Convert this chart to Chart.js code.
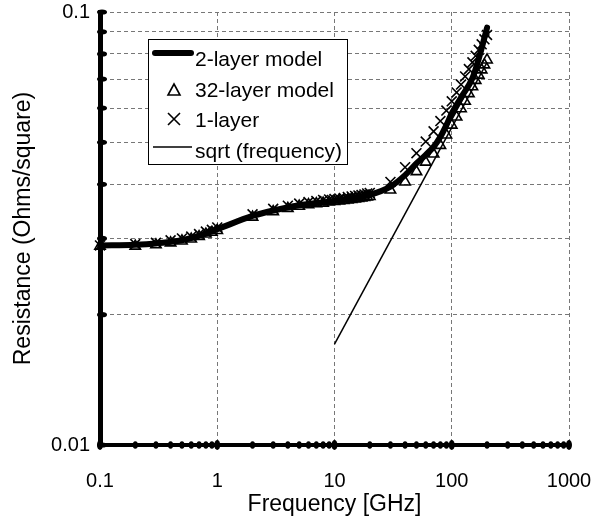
<!DOCTYPE html>
<html>
<head>
<meta charset="utf-8">
<script src="https://cdn.jsdelivr.net/npm/chart.js@4.4.1/dist/chart.umd.min.js"></script>
<style>
  html, body { margin: 0; padding: 0; background: #fff; }
  #wrap { width: 600px; height: 517px; }
</style>
</head>
<body>
<div id="wrap"><canvas id="resistance" width="600" height="517"></canvas></div>
<script>
// frequencies [GHz] of the 2-layer model curve and its resistance [Ohms/square]
const modelFreq = [0.1, 0.2, 0.3, 0.5, 0.7, 1, 2, 3, 5, 7, 10, 15, 20, 30, 40, 50, 60, 70, 80, 90, 100, 120, 150, 170, 200];
const modelRes  = [0.0289, 0.0290, 0.0292, 0.0297, 0.0304, 0.0315, 0.0338, 0.0348, 0.0358, 0.0362, 0.0366, 0.0372, 0.0378,
                   0.0395, 0.0420, 0.0447, 0.0468, 0.0488, 0.0515, 0.0548, 0.0583, 0.0635, 0.0703, 0.0780, 0.0920];

// frequencies where the 32-layer and 1-layer models were evaluated
const markerFreq = [0.1, 0.2, 0.3, 0.4, 0.5, 0.6, 0.7, 0.8, 0.9, 1, 2, 3, 4, 5, 6, 7, 8, 9, 10,
                    11, 12, 13, 14, 15, 16, 17, 18, 19, 20, 30, 40, 50, 60, 70, 80, 90, 100,
                    110, 120, 130, 140, 150, 160, 170, 180, 190, 200];
const res32Layer = [0.0288, 0.0288, 0.0290, 0.0293, 0.0296, 0.0299, 0.0303, 0.0307, 0.0310, 0.0313,
                    0.0336, 0.0346, 0.0352, 0.0356, 0.0359, 0.0361, 0.0362, 0.0364, 0.0365,
                    0.0366, 0.0367, 0.0368, 0.0369, 0.0370, 0.0371, 0.0372, 0.0373, 0.0374, 0.0375,
                    0.0388, 0.0405, 0.0428, 0.0450, 0.0470, 0.0492, 0.0520, 0.0548,
                    0.0572, 0.0598, 0.0622, 0.0648, 0.0672, 0.0695, 0.0715, 0.0735, 0.0755, 0.0775];
const res1Layer  = [0.0289, 0.0291, 0.0293, 0.0297, 0.0300, 0.0303, 0.0307, 0.0311, 0.0314, 0.0318,
                    0.0341, 0.0351, 0.0357, 0.0361, 0.0364, 0.0366, 0.0368, 0.0369, 0.0370,
                    0.0371, 0.0372, 0.0374, 0.0375, 0.0376, 0.0377, 0.0378, 0.0379, 0.0381, 0.0382,
                    0.0405, 0.0438, 0.0472, 0.0502, 0.0530, 0.0560, 0.0592, 0.0622,
                    0.0652, 0.0680, 0.0710, 0.0738, 0.0765, 0.0792, 0.0818, 0.0842, 0.0865, 0.0885];

// sqrt(frequency) reference line, end points
const sqrtFreq = [10, 200];
const sqrtRes  = [0.0171, 0.0765];

const seriesLabels = ['2-layer model', '32-layer model', '1-layer', 'sqrt (frequency)'];

// axis ticks: every 1..9 x decade, labels only on decades
const xDecades = [0.1, 1, 10, 100];
const yDecades = [0.01];
const xTickLabels = ['0.1', '1', '10', '100', '1000'];
const yTickLabels = ['0.01', '0.1'];

function minorTicks(decades, last) {
    const out = [];
    decades.forEach(d => {
        for (let s = 1; s <= 9; s++) out.push(Number((d * s).toPrecision(3)));
    });
    out.push(last);
    return out;
}
const xTickVals = minorTicks(xDecades, 1000);
const yTickVals = minorTicks(yDecades, 0.1);

const FONT = '"Liberation Sans", Arial, sans-serif';

function toPoints(xs, ys) {
    return xs.map((x, i) => ({ x: x, y: ys[i] }));
}

// dots on the axes at every tick
const axisDots = {
    id: 'axisDots',
    afterDraw(chart) {
        const ctx = chart.ctx;
        const xs = chart.scales.x, ys = chart.scales.y;
        const area = chart.chartArea;
        ctx.save();
        ctx.fillStyle = '#000';
        xs.ticks.forEach(t => {
            const px = xs.getPixelForValue(t.value);
            const big = xTickLabels.includes(String(t.value));
            ctx.beginPath();
            ctx.ellipse(px, area.bottom, big ? 3 : 2.6, big ? 5 : 3.8, 0, 0, Math.PI * 2);
            ctx.fill();
        });
        ys.ticks.forEach(t => {
            const py = ys.getPixelForValue(t.value);
            ctx.beginPath();
            ctx.ellipse(area.left + 2, py, 5, 2.6, 0, 0, Math.PI * 2);
            ctx.fill();
        });
        ctx.restore();
    }
};

// boxed legend in the upper left of the plot
const legendBox = {
    id: 'legendBox',
    afterDraw(chart) {
        const ctx = chart.ctx;
        const x = 148, y = 39, w = 199, h = 125;
        ctx.save();
        ctx.fillStyle = '#fff';
        ctx.fillRect(x, y, w, h);
        ctx.strokeStyle = '#000';
        ctx.lineWidth = 1;
        ctx.strokeRect(x + 0.5, y + 0.5, w, h);

        const ds = chart.data.datasets;
        const symX = 174, textX = 195;
        const baselines = [66, 97, 127, 158];

        // thick line
        ctx.lineCap = 'round';
        ctx.lineWidth = 6;
        ctx.beginPath(); ctx.moveTo(155, 53); ctx.lineTo(191, 53); ctx.stroke();
        // triangle
        ctx.lineCap = 'butt';
        ctx.lineWidth = 1.6;
        ctx.beginPath();
        ctx.moveTo(symX, 84); ctx.lineTo(symX + 6, 95); ctx.lineTo(symX - 6, 95); ctx.closePath();
        ctx.stroke();
        // cross
        ctx.beginPath();
        ctx.moveTo(symX - 6, 113); ctx.lineTo(symX + 6, 125);
        ctx.moveTo(symX + 6, 113); ctx.lineTo(symX - 6, 125);
        ctx.stroke();
        // thin line
        ctx.lineWidth = 1.5;
        ctx.beginPath(); ctx.moveTo(153, 147); ctx.lineTo(192, 147); ctx.stroke();

        ctx.fillStyle = '#000';
        ctx.font = '21px ' + FONT;
        ctx.textBaseline = 'alphabetic';
        ds.forEach((d, i) => ctx.fillText(d.label, textX, baselines[i]));
        ctx.restore();
    }
};

// let the layout padding alone decide the plot edges
function noLabelPadding(scale) {
    scale.paddingLeft = 0;
    scale.paddingRight = 0;
    scale.paddingTop = 0;
    scale.paddingBottom = 0;
}

const ctx = document.getElementById('resistance').getContext('2d');
const chart = new Chart(ctx, {
    type: 'scatter',
    data: {
        datasets: [{
            label: seriesLabels[0],
            type: 'line',
            data: toPoints(modelFreq, modelRes),
            borderColor: '#000',
            borderWidth: 6,
            borderCapStyle: 'round',
            borderJoinStyle: 'round',
            cubicInterpolationMode: 'monotone',
            pointRadius: 0,
            fill: false,
            clip: false,
            order: 1
        }, {
            label: seriesLabels[1],
            data: toPoints(markerFreq, res32Layer),
            pointStyle: 'triangle',
            pointRadius: 6,
            pointBorderWidth: 1.6,
            pointBorderColor: '#000',
            pointBackgroundColor: 'rgba(0,0,0,0)',
            showLine: false,
            clip: false,
            order: 2
        }, {
            label: seriesLabels[2],
            data: toPoints(markerFreq, res1Layer),
            pointStyle: 'crossRot',
            pointRadius: 7,
            pointBorderWidth: 1.6,
            pointBorderColor: '#000',
            showLine: false,
            clip: false,
            order: 3
        }, {
            label: seriesLabels[3],
            type: 'line',
            data: toPoints(sqrtFreq, sqrtRes),
            borderColor: '#000',
            borderWidth: 1.5,
            pointRadius: 0,
            fill: false,
            order: 4
        }]
    },
    options: {
        responsive: false,
        animation: false,
        events: [],
        layout: { padding: { top: 12, right: 31, left: 0, bottom: 0 } },
        plugins: {
            legend: { display: false },
            tooltip: { enabled: false }
        },
        scales: {
            x: {
                type: 'logarithmic',
                min: 0.1,
                max: 1000,
                afterBuildTicks: (scale) => {
                    scale.ticks = xTickVals.map(v => ({ value: v }));
                },
                afterFit: (scale) => { scale.height = 72; noLabelPadding(scale); },
                ticks: {
                    autoSkip: false,
                    maxRotation: 0,
                    padding: 24,
                    color: '#000',
                    font: { family: FONT, size: 20 },
                    callback: (v) => xTickLabels.includes(String(v)) ? String(v) : ''
                },
                grid: {
                    drawTicks: false,
                    lineWidth: 1,
                    color: (c) => (c.tick && [1, 10, 100, 1000].includes(c.tick.value)) ? '#777' : 'rgba(0,0,0,0)'
                },
                border: { display: true, color: '#000', width: 4, dash: [4, 3] },
                title: {
                    display: true,
                    text: 'Frequency [GHz]',
                    color: '#000',
                    font: { family: FONT, size: 23, lineHeight: 1 },
                    padding: { top: 0, bottom: 1 }
                }
            },
            y: {
                type: 'logarithmic',
                min: 0.01,
                max: 0.1,
                afterBuildTicks: (scale) => {
                    scale.ticks = yTickVals.map(v => ({ value: v }));
                },
                afterFit: (scale) => { scale.width = 100; noLabelPadding(scale); },
                ticks: {
                    autoSkip: false,
                    padding: 10,
                    color: '#000',
                    font: { family: FONT, size: 20 },
                    callback: (v) => yTickLabels.includes(String(v)) ? String(v) : ''
                },
                grid: {
                    drawTicks: false,
                    lineWidth: 1,
                    color: (c) => (c.tick && c.tick.value > 0.01) ? '#777' : 'rgba(0,0,0,0)'
                },
                border: { display: true, color: '#000', width: 5, dash: [4, 3] },
                title: {
                    display: true,
                    text: 'Resistance (Ohms/square)',
                    color: '#000',
                    font: { family: FONT, size: 23 },
                    padding: { top: 10, bottom: 0 }
                }
            }
        }
    },
    plugins: [axisDots, legendBox]
});
</script>
</body>
</html>
